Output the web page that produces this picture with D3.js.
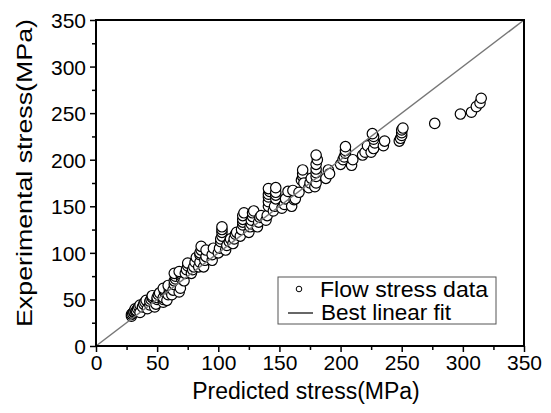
<!DOCTYPE html>
<html>
<head>
<meta charset="utf-8">
<script src="https://cdn.jsdelivr.net/npm/d3@7"></script>
<style>
    body { margin: 0; background: #fff; }
    svg { display: block; font-family: 'Liberation Sans', Arial, sans-serif; }
</style>
</head>
<body>
<div class="chart"></div>
<script>
// predicted flow stress (MPa), one entry per measured point
const predicted = [
    29, 29, 30, 31, 31, 32, 32,
    33, 34, 35, 36, 36,
    38, 39, 40, 41, 42,
    44, 44, 45, 46, 46,
    48, 49, 50, 50, 51, 52,
    55, 55, 55, 56, 56, 55,
    58, 59, 60, 60, 59,
    62, 63, 64, 64, 65, 65, 64,
    68, 69, 70, 70, 69, 68,
    72, 73, 74, 75, 75,
    78, 79, 80, 81, 82,
    84, 85, 85, 85, 86, 86,
    88, 89, 90, 90,
    95, 95, 96,
    100, 101, 102, 102, 103, 103, 103, 103,
    106, 107, 109, 110,
    112, 113, 114, 115,
    118, 119, 120, 120, 120, 120, 121,
    125, 126, 127, 127, 128, 128, 129,
    132, 133, 134, 135,
    139, 140, 141, 141, 141, 141, 142, 141,
    145, 146, 147, 147, 147, 147,
    152, 154, 155, 157,
    160, 162, 163, 161,
    166, 168, 169, 169, 170, 169,
    174, 175, 176,
    179, 180, 180, 180, 180, 180, 181, 180,
    188, 190, 191,
    200, 202, 203, 204, 204, 204,
    209, 210,
    218, 220, 222,
    225, 227, 228, 227, 227, 226,
    235, 236,
    248, 249, 250, 250, 250, 251,
    277, 298, 307, 311, 314, 315
];

// experimental flow stress (MPa), same order as predicted
const experimental = [
    32, 34, 35, 36, 37, 38, 40,
    38, 40, 42, 44, 36,
    42, 45, 47, 49, 40,
    44, 48, 50, 52, 54,
    42, 45, 50, 52, 55, 57,
    47, 50, 52, 58, 60, 62,
    49, 55, 60, 63, 65,
    55, 60, 66, 70, 72, 75, 78,
    58, 62, 72, 75, 78, 80,
    70, 78, 82, 86, 89,
    78, 82, 85, 90, 95,
    85, 90, 98, 100, 103, 107,
    85, 92, 96, 103,
    92, 98, 105,
    100, 105, 112, 115, 118, 122, 125, 128,
    103, 108, 112, 115,
    110, 115, 120, 122,
    118, 125, 130, 133, 136, 140, 143,
    122, 128, 131, 135, 139, 143, 145,
    128, 133, 138, 140,
    135, 140, 150, 155, 160, 163, 166, 169,
    145, 150, 158, 162, 165, 170,
    148, 152, 158, 166,
    150, 157, 158, 167,
    165, 178, 182, 185, 175, 189,
    170, 175, 180,
    171, 175, 182, 186, 190, 195, 200, 205,
    180, 189, 185,
    195, 200, 203, 207, 210, 214,
    194, 200,
    205, 208, 215,
    208, 212, 218, 222, 225, 228,
    215, 220,
    220, 223, 226, 229, 232, 234,
    239, 249, 251, 257, 261, 266
];

const fitLine = [0, 350];
const tickValues = [0, 50, 100, 150, 200, 250, 300, 350];
const minorTicks = [25, 75, 125, 175, 225, 275, 325];

const margin = { 'top': 20, 'left': 96, 'right': 27, 'bottom': 67 };
const width = 551 - margin.left - margin.right;
const height = 413 - margin.top - margin.bottom;

const svg = d3.select('.chart').append('svg')
    .attr('width', 551)
    .attr('height', 413);

const holder = svg.append('g')
    .attr('transform', 'translate(' + margin.left + ',' + margin.top + ')');

const x = d3.scaleLinear().domain([0, 350]).range([0, width]);
const y = d3.scaleLinear().domain([0, 350]).range([height, 0]);

// bottom axis
const xAxis = holder.append('g').attr('transform', 'translate(0,' + height + ')')
    .call(d3.axisBottom(x).tickValues(tickValues).tickSize(6).tickPadding(3));
holder.append('g').attr('transform', 'translate(0,' + height + ')')
    .call(d3.axisBottom(x).tickValues(minorTicks).tickSize(4).tickFormat(''))
    .call(function (g) { g.select('.domain').remove(); });

// left axis
const yAxis = holder.append('g')
    .call(d3.axisLeft(y).tickValues(tickValues).tickSize(6).tickPadding(4));
holder.append('g')
    .call(d3.axisLeft(y).tickValues(minorTicks).tickSize(4).tickFormat(''))
    .call(function (g) { g.select('.domain').remove(); });

holder.selectAll('.tick line').attr('stroke', '#000').attr('stroke-width', 1.5);
holder.selectAll('.domain').remove();
xAxis.selectAll('text').style('font-size', '21px').attr('fill', '#000');
yAxis.selectAll('text').style('font-size', '21px').attr('fill', '#000').attr('dy', '0.36em');

const points = d3.range(predicted.length).map(function (i) {
    return { 'p': predicted[i], 'e': experimental[i] };
});

holder.append('g').selectAll('circle').data(points)
    .enter().append('circle')
    .attr('cx', function (d) { return x(d.p); })
    .attr('cy', function (d) { return y(d.e); })
    .attr('r', 5.2)
    .attr('fill', '#fff')
    .attr('stroke', '#000')
    .attr('stroke-width', 1.2);

// y = x reference fit
holder.append('line')
    .attr('x1', x(fitLine[0])).attr('y1', y(fitLine[0]))
    .attr('x2', x(fitLine[1])).attr('y2', y(fitLine[1]))
    .attr('stroke', '#777').attr('stroke-width', 1.5);

// frame
holder.append('rect')
    .attr('width', width).attr('height', height)
    .attr('fill', 'none').attr('stroke', '#000').attr('stroke-width', 2);

// legend
const legend = holder.append('g').attr('transform', 'translate(' + (278 - margin.left) + ',' + (277 - margin.top) + ')');
legend.append('rect').attr('width', 218).attr('height', 47)
    .attr('fill', '#fff').attr('stroke', '#555').attr('stroke-width', 1);
legend.append('circle').attr('cx', 21).attr('cy', 12).attr('r', 2.8)
    .attr('fill', 'none').attr('stroke', '#000').attr('stroke-width', 1);
legend.append('line').attr('x1', 10).attr('x2', 35).attr('y1', 36).attr('y2', 36)
    .attr('stroke', '#000').attr('stroke-width', 1.2);
legend.append('text').attr('x', 42).attr('y', 20).style('font-size', '22px')
    .attr('textLength', 168).attr('lengthAdjust', 'spacingAndGlyphs').text('Flow stress data');
legend.append('text').attr('x', 43).attr('y', 43).style('font-size', '22px')
    .attr('textLength', 130).attr('lengthAdjust', 'spacingAndGlyphs').text('Best linear fit');

// axis titles
svg.append('text').attr('x', 306).attr('y', 399).attr('text-anchor', 'middle')
    .style('font-size', '23px').text('Predicted stress(MPa)');
svg.append('text').attr('transform', 'translate(32,173) rotate(-90)').attr('text-anchor', 'middle')
    .style('font-size', '22px').attr('textLength', 308).attr('lengthAdjust', 'spacingAndGlyphs')
    .text('Experimental stress(MPa)');
</script>
</body>
</html>
